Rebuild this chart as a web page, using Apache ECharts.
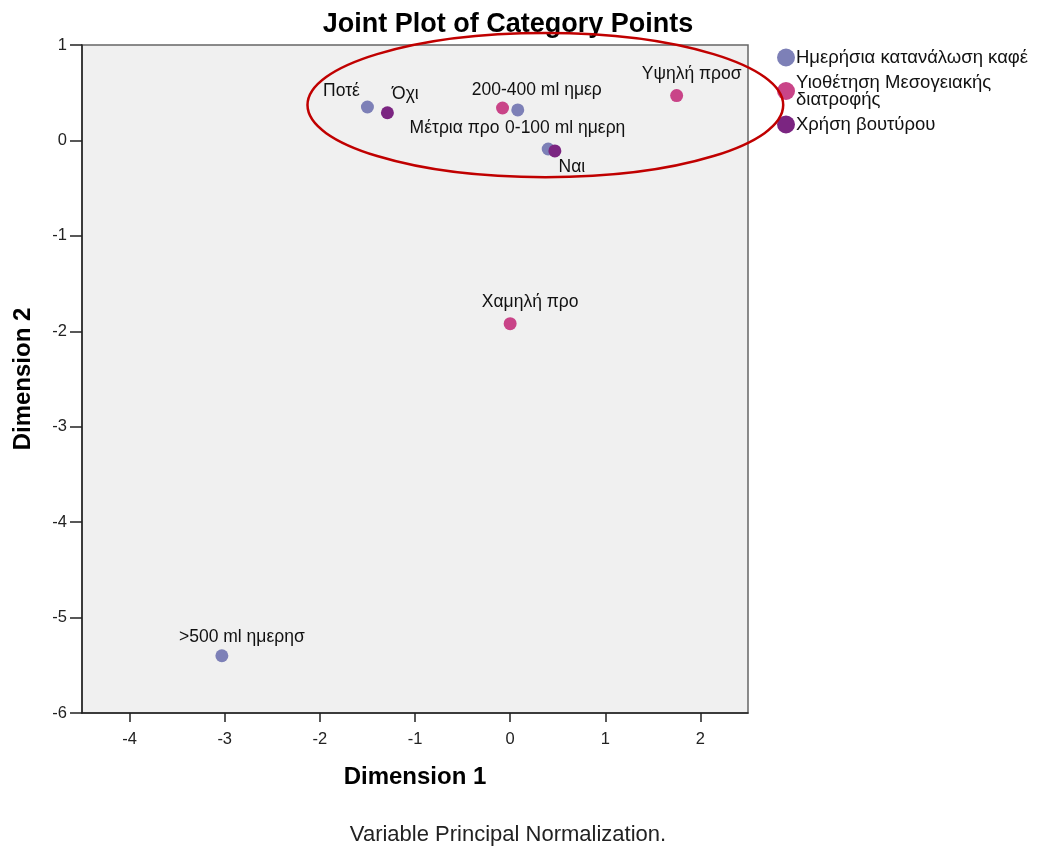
<!DOCTYPE html>
<html>
<head>
<meta charset="utf-8">
<title>Joint Plot of Category Points</title>
<script src="https://cdn.jsdelivr.net/npm/echarts@6/dist/echarts.min.js"></script>
<style>
  html, body { margin: 0; padding: 0; background: #fff; }
  #chart { width: 1043px; height: 846px; }
</style>
</head>
<body>
<div id="chart"></div>
<script>
'use strict';
// Ημερήσια κατανάλωση καφέ
var coffeeNames = ['Ποτέ', '200-400 ml ημερ', '0-100 ml ημερη', '>500 ml ημερησ'];
var coffeeX = [-1.50, 0.08, 0.40, -3.03];
var coffeeY = [0.35, 0.32, -0.09, -5.40];
// Υιοθέτηση Μεσογειακής διατροφής
var dietNames = ['Μέτρια προ', 'Υψηλή προσ', 'Χαμηλή προ'];
var dietX = [-0.08, 1.75, 0.00];
var dietY = [0.34, 0.47, -1.92];
// Χρήση βουτύρου
var butterNames = ['Όχι', 'Ναι'];
var butterX = [-1.29, 0.47];
var butterY = [0.29, -0.11];

var seriesNames = ['Ημερήσια κατανάλωση καφέ', 'Υιοθέτηση Μεσογειακής διατροφής', 'Χρήση βουτύρου'];
var xTicks = [-4, -3, -2, -1, 0, 1, 2];

// label placement (pixel offsets from the point)
var labelOffsets = {
    'Ποτέ': [-26, -16],
    '200-400 ml ημερ': [19, -20],
    '0-100 ml ημερη': [17, -21],
    '>500 ml ημερησ': [20, -19],
    'Μέτρια προ': [-48, 20],
    'Υψηλή προσ': [15, -21],
    'Χαμηλή προ': [20, -21],
    'Όχι': [18, -19],
    'Ναι': [17, 16]
};

var font = 'Liberation Sans, Arial, sans-serif';
var myChart = echarts.init(document.getElementById('chart'));

function buildData(names, xs, ys) {
    return names.map(function (n, i) {
        return {
            name: n,
            value: [xs[i], ys[i]],
            label: { offset: labelOffsets[n] }
        };
    });
}

function makeSeries(name, color, data) {
    return {
        name: name,
        type: 'scatter',
        symbolSize: 13,
        itemStyle: { color: color, opacity: 1 },
        label: {
            show: true,
            position: 'inside',
            formatter: '{b}',
            color: '#111',
            fontSize: 17.5,
            fontFamily: font
        },
        emphasis: { disabled: true },
        data: data
    };
}

var option = {
    animation: false,
    textStyle: { fontFamily: font },
    title: [
        {
            text: 'Joint Plot of Category Points',
            left: 503, top: 6,
            textAlign: 'center',
            textStyle: { fontSize: 27, fontWeight: 'bold', color: '#000', fontFamily: font }
        },
        {
            text: 'Variable Principal Normalization.',
            left: 503, top: 819,
            textAlign: 'center',
            textStyle: { fontSize: 22, fontWeight: 'normal', color: '#222', fontFamily: font }
        }
    ],
    legend: {
        orient: 'vertical',
        left: 777,
        top: 48,
        padding: 0,
        icon: 'circle',
        itemWidth: 18,
        itemHeight: 18,
        itemGap: 6,
        selectedMode: false,
        formatter: function (n) {
            return n === seriesNames[1] ? 'Υιοθέτηση Μεσογειακής\nδιατροφής' : n;
        },
        textStyle: { fontSize: 18.5, color: '#111', lineHeight: 17, fontFamily: font, padding: [0, 0, 0, -4] },
        data: seriesNames
    },
    grid: {
        left: 82, right: 295, top: 45, bottom: 133,
        show: true,
        backgroundColor: '#f0f0f0',
        borderColor: '#666',
        borderWidth: 1.5
    },
    xAxis: {
        type: 'value',
        min: -4.5, max: 2.5,
        name: 'Dimension 1',
        nameLocation: 'middle',
        nameGap: 52,
        nameTextStyle: { fontSize: 24, fontWeight: 'bold', color: '#000' },
        splitLine: { show: false },
        axisLine: { show: true, onZero: false, lineStyle: { color: '#222', width: 1.5 } },
        axisTick: { show: true, length: 9, customValues: xTicks, lineStyle: { color: '#222', width: 1.5 } },
        axisLabel: { customValues: xTicks, color: '#222', fontSize: 16.5, margin: 18 }
    },
    yAxis: {
        type: 'value',
        min: -6, max: 1, interval: 1,
        name: 'Dimension 2',
        nameLocation: 'middle',
        nameGap: 47,
        nameTextStyle: { fontSize: 24, fontWeight: 'bold', color: '#000' },
        splitLine: { show: false },
        axisLine: { show: true, onZero: false, lineStyle: { color: '#222', width: 1.5 } },
        axisTick: { show: true, length: 12, lineStyle: { color: '#222', width: 1.5 } },
        axisLabel: { color: '#222', fontSize: 16.5, margin: 15 }
    },
    series: [
        makeSeries(seriesNames[0], '#7d80b7', buildData(coffeeNames, coffeeX, coffeeY)),
        makeSeries(seriesNames[1], '#c94488', buildData(dietNames, dietX, dietY)),
        makeSeries(seriesNames[2], '#7b2581', buildData(butterNames, butterX, butterY))
    ]
};
myChart.setOption(option);

// red ellipse around the upper cluster, defined in data units
var ellCenter = [0.37, 0.37];
var ellRadius = [2.50, 0.755];
var c = myChart.convertToPixel({ gridIndex: 0 }, ellCenter);
var e = myChart.convertToPixel({ gridIndex: 0 }, [ellCenter[0] + ellRadius[0], ellCenter[1] + ellRadius[1]]);
myChart.setOption({
    graphic: [{
        type: 'ellipse',
        shape: { cx: c[0], cy: c[1], rx: Math.abs(e[0] - c[0]), ry: Math.abs(c[1] - e[1]) },
        style: { fill: 'none', stroke: '#c00000', lineWidth: 2.5 },
        z: 100
    }]
});
</script>
</body>
</html>
